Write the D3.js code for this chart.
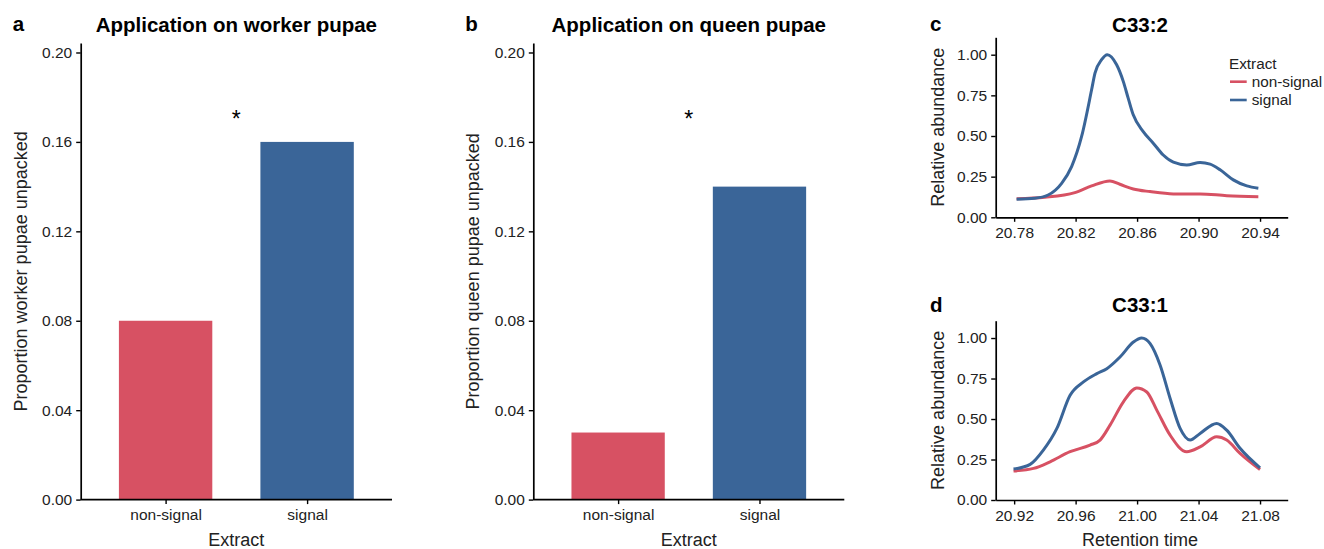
<!DOCTYPE html>
<html>
<head>
<meta charset="utf-8">
<script src="https://cdn.jsdelivr.net/npm/d3@7"></script>
<style>
  body { margin: 0; background: #fff; }
  svg { font-family: "Liberation Sans", Arial, sans-serif; }
</style>
</head>
<body>
<svg id="fig"></svg>
<script>
// bar panels
const barCats = ["non-signal", "signal"];
const workerVals = [0.08, 0.16];
const queenVals = [0.03, 0.14];
const barTicks = [0, 0.04, 0.08, 0.12, 0.16, 0.20];
const starLevel = 0.17;

// chromatogram C33:2
const c332SignalT = [20.7816, 20.7935, 20.8021, 20.8109, 20.8174, 20.8239, 20.8304, 20.8326, 20.8369, 20.8406, 20.8467, 20.851, 20.8542, 20.8575, 20.864, 20.8705, 20.877, 20.8836, 20.8923, 20.901, 20.9075, 20.914, 20.9226, 20.9314, 20.9389];
const c332SignalY = [0.111, 0.117, 0.137, 0.209, 0.312, 0.497, 0.784, 0.887, 0.969, 1.0, 0.938, 0.836, 0.733, 0.63, 0.527, 0.456, 0.383, 0.339, 0.322, 0.337, 0.327, 0.292, 0.23, 0.193, 0.179];
const c332NonT = [20.7816, 20.80, 20.8195, 20.8304, 20.8423, 20.8488, 20.8575, 20.8684, 20.8836, 20.901, 20.9183, 20.9389];
const c332NonY = [0.114, 0.123, 0.152, 0.193, 0.224, 0.203, 0.174, 0.158, 0.144, 0.144, 0.133, 0.127];
const c332Ticks = [20.78, 20.82, 20.86, 20.90, 20.94];

// chromatogram C33:1
const c331SignalT = [20.9196, 20.9304, 20.939, 20.9478, 20.9564, 20.9651, 20.9738, 20.9803, 20.9889, 20.9976, 21.003, 21.0085, 21.015, 21.0215, 21.028, 21.0345, 21.041, 21.0518, 21.0583, 21.067, 21.08];
const c331SignalY = [0.191, 0.22, 0.308, 0.442, 0.647, 0.729, 0.78, 0.811, 0.883, 0.975, 1.0, 0.965, 0.832, 0.627, 0.442, 0.37, 0.411, 0.473, 0.431, 0.319, 0.199];
const c331NonT = [20.9196, 20.9326, 20.9434, 20.9564, 20.9694, 20.9759, 20.9824, 20.9911, 20.9998, 21.0063, 21.0128, 21.0215, 21.0323, 21.041, 21.0518, 21.0583, 21.067, 21.08];
const c331NonY = [0.179, 0.195, 0.236, 0.298, 0.339, 0.37, 0.462, 0.606, 0.692, 0.667, 0.555, 0.40, 0.298, 0.328, 0.39, 0.37, 0.288, 0.188];
const c331Ticks = [20.92, 20.96, 21.00, 21.04, 21.08];

const abundTicks = [0, 0.25, 0.5, 0.75, 1.0];

const RED = "#d75163";
const BLUE = "#3a6598";
const WIDTH = 1324, HEIGHT = 549;
const TICK_FONT = "15.5px", LAB_FONT = "18px", TITLE_FONT = "20.5px";

const svg = d3.select("#fig").attr("width", WIDTH).attr("height", HEIGHT);

function styleAxis(g) {
    g.attr("font-family", null).attr("font-size", null);
    g.select(".domain").attr("stroke", "#000").attr("stroke-width", 1.7);
    g.selectAll(".tick line").attr("stroke", "#000").attr("stroke-width", 1.4);
    g.selectAll(".tick text").attr("fill", "#222").style("font-size", TICK_FONT);
}

function barPanel(x0, x1, vals, letter, title, ylab) {
    const top = 43.1, bottom = 499.6;
    let xScale = d3.scalePoint().domain(barCats).range([x0, x1]).padding(0.6);
    let yScale = d3.scaleLinear().domain([0, 0.2042]).range([bottom, top]);
    let bw = xScale.step() * 0.66;
    let mid = (xScale(barCats[0]) + xScale(barCats[1])) / 2;

    let g = svg.append("g");
    g.selectAll("rect")
        .data(barCats)
        .enter()
        .append("rect")
        .attr("x", function(d) { return xScale(d) - bw / 2; })
        .attr("width", bw)
        .attr("y", function(d, i) { return yScale(vals[i]); })
        .attr("height", function(d, i) { return bottom - yScale(vals[i]); })
        .attr("fill", function(d, i) { return i == 0 ? RED : BLUE; });

    g.append("g").attr("transform", "translate(0," + bottom + ")")
        .call(d3.axisBottom(xScale).tickSize(4.5).tickPadding(5).tickSizeOuter(0))
        .call(styleAxis)
        .select(".domain").attr("d", "M" + x0 + ",0H" + x1);
    g.append("g").attr("transform", "translate(" + x0 + ",0)")
        .call(d3.axisLeft(yScale).tickValues(barTicks).tickFormat(d3.format(".2f")).tickSize(4.5).tickPadding(4).tickSizeOuter(0))
        .call(styleAxis);

    // significance star
    g.append("text")
        .text("*")
        .attr("x", mid)
        .attr("y", yScale(starLevel) + 7.5)
        .attr("font-size", "23px")
        .attr("text-anchor", "middle");

    g.append("text").text(title)
        .attr("x", mid).attr("y", 31.5)
        .attr("font-size", TITLE_FONT).attr("font-weight", "bold").attr("text-anchor", "middle");
    g.append("text").text(letter)
        .attr("x", x0 - 68).attr("y", 31)
        .attr("font-size", TITLE_FONT).attr("font-weight", "bold");
    g.append("text").text("Extract")
        .attr("x", mid).attr("y", 545.5)
        .attr("font-size", LAB_FONT).attr("text-anchor", "middle").attr("fill", "#222");
    g.append("text").text(ylab)
        .attr("transform", "translate(" + (x0 - 54) + "," + ((top + bottom) / 2) + ") rotate(-90)")
        .attr("font-size", LAB_FONT).attr("text-anchor", "middle").attr("fill", "#222");
}

function linePanel(top, bottom, titleY, domain, ticks, series, letter, title, xlab) {
    const x0 = 995.7, x1 = 1287.7;
    let xScale = d3.scaleLinear().domain(domain).range([x0, x1]);
    let yScale = d3.scaleLinear().domain([0, 1.107]).range([bottom, top]);
    let line = d3.line()
        .x(function(d) { return xScale(d[0]); })
        .y(function(d) { return yScale(d[1]); })
        .curve(d3.curveMonotoneX);

    let g = svg.append("g");
    g.selectAll("path.series")
        .data(series)
        .enter()
        .append("path")
        .attr("class", "series")
        .attr("d", function(s) { return line(d3.zip(s.t, s.y)); })
        .attr("fill", "none")
        .attr("stroke", function(s) { return s.color; })
        .attr("stroke-width", 3)
        .attr("stroke-linejoin", "round");

    g.append("g").attr("transform", "translate(0," + bottom + ")")
        .call(d3.axisBottom(xScale).tickValues(ticks).tickFormat(d3.format(".2f")).tickSize(4.5).tickPadding(5).tickSizeOuter(0))
        .call(styleAxis);
    g.append("g").attr("transform", "translate(" + x0 + ",0)")
        .call(d3.axisLeft(yScale).tickValues(abundTicks).tickFormat(d3.format(".2f")).tickSize(4.5).tickPadding(4).tickSizeOuter(0))
        .call(styleAxis);

    g.append("text").text(title)
        .attr("x", 1140).attr("y", titleY)
        .attr("font-size", TITLE_FONT).attr("font-weight", "bold").attr("text-anchor", "middle");
    g.append("text").text(letter)
        .attr("x", 930).attr("y", titleY - 0.8)
        .attr("font-size", TITLE_FONT).attr("font-weight", "bold");
    g.append("text").text("Relative abundance")
        .attr("transform", "translate(" + (x0 - 52) + "," + ((top + bottom) / 2) + ") rotate(-90)")
        .attr("font-size", LAB_FONT).attr("text-anchor", "middle").attr("fill", "#222");
    if (xlab) {
        g.append("text").text(xlab)
            .attr("x", 1140).attr("y", 545.5)
            .attr("font-size", LAB_FONT).attr("text-anchor", "middle").attr("fill", "#222");
    }
}

barPanel(80.7, 392, workerVals, "a", "Application on worker pupae", "Proportion worker pupae unpacked");
barPanel(533.3, 844.3, queenVals, "b", "Application on queen pupae", "Proportion queen pupae unpacked");

linePanel(37.3, 217.3, 31.7, [20.768, 20.958], c332Ticks, [
    { t: c332NonT, y: c332NonY, color: RED },
    { t: c332SignalT, y: c332SignalY, color: BLUE }
], "c", "C33:2", null);

linePanel(320.7, 500, 312.3, [20.908, 21.098], c331Ticks, [
    { t: c331NonT, y: c331NonY, color: RED },
    { t: c331SignalT, y: c331SignalY, color: BLUE }
], "d", "C33:1", "Retention time");

// legend
let leg = svg.append("g").attr("transform", "translate(1229,0)");
leg.append("text").text("Extract").attr("x", 0).attr("y", 68.5).attr("font-size", "15.3px").attr("fill", "#222");
leg.selectAll("line")
    .data(barCats)
    .enter()
    .append("line")
    .attr("x1", 1).attr("x2", 17.7)
    .attr("y1", function(d, i) { return 81.7 + i * 18.3; })
    .attr("y2", function(d, i) { return 81.7 + i * 18.3; })
    .attr("stroke", function(d, i) { return i == 0 ? RED : BLUE; })
    .attr("stroke-width", 2.6);
leg.selectAll("text.lab")
    .data(barCats)
    .enter()
    .append("text")
    .attr("class", "lab")
    .text(function(d) { return d; })
    .attr("x", 22.7)
    .attr("y", function(d, i) { return 81.7 + i * 18.3 + 5.3; })
    .attr("font-size", "15.3px").attr("fill", "#222");
</script>
</body>
</html>
